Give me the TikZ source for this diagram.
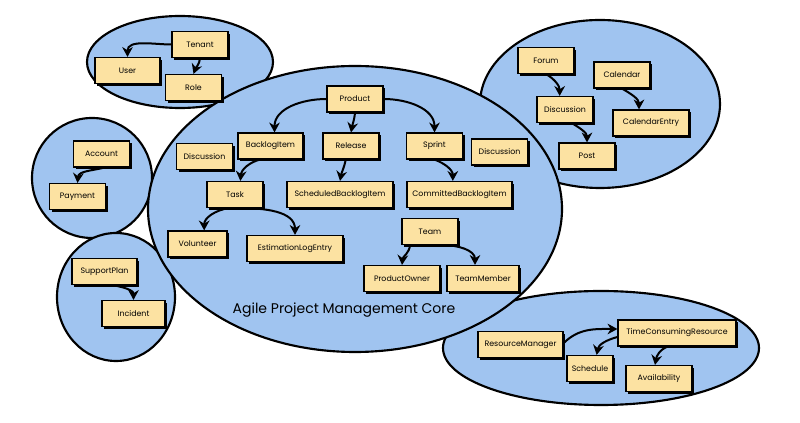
\documentclass[tikz,border=0pt]{standalone}
\usepackage{fontspec}
\setmainfont{Poppins}
\usetikzlibrary{arrows.meta, shadows, positioning}
\definecolor{cZone}{RGB}{160,196,240}
\definecolor{cBox}{RGB}{252,226,162}
\tikzset{
	zone/.style     ={draw=black, line width=1.6pt, fill=cZone},
	ent/.style      ={rectangle, draw=black, line width=0.9pt, fill=cBox, minimum width=42pt, minimum height=19.5pt, inner xsep=4pt, align=center, font=\fontsize{5.9}{7}\selectfont, drop shadow={fill=black, opacity=1, shadow xshift=1.6pt, shadow yshift=-1.6pt}},
	assoc/.style    ={-{Stealth[length=2.6mm, width=2.8mm]}, line width=1.5pt},
	zonelabel/.style={font=\fontsize{10.5}{12}\selectfont},
}

\begin{document}
\begin{tikzpicture}[x=0.75pt, y=-0.75pt]
			\useasboundingbox (0,0) rectangle (800,423);
			\fill[white] (0,0) rectangle (800,423);
			% context zones
			\draw[zone] (180,62) ellipse [x radius=93, y radius=46];
			\draw[zone] (92,178) ellipse [x radius=60, y radius=60];
			\draw[zone] (116,297) ellipse [x radius=59, y radius=64];
			\draw[zone] (600,104) ellipse [x radius=120, y radius=84];
			\draw[zone] (601,348) ellipse [x radius=158, y radius=57];
			\draw[zone] (355,209) ellipse [x radius=207, y radius=143];
			\node[zonelabel] (coretitle) at (344,310) {Agile Project Management Core};
			% identity and access
			\node[ent] (tenant) at (200,44.5) {Tenant};
			\node[ent, minimum width=48.75pt] (user) at (127.5,70.5) {User};
			\node[ent] (role) at (193.5,87.5) {Role};
			\draw[assoc] (tenant.west) to[out=180, in=90] (user.north);
			\draw[assoc] (tenant.south) to[out=-95, in=70] (role.north);
			% billing
			\node[ent] (account) at (101.5,154) {Account};
			\node[ent] (payment) at (77.5,196.5) {Payment};
			\draw[assoc] ([xshift=2pt]account.south) to[out=195, in=85] (payment.north);
			% support
			\node[ent, minimum width=48.75pt] (supportplan) at (104.5,271.5) {SupportPlan};
			\node[ent, minimum width=47.25pt] (incident) at (133.5,313.5) {Incident};
			\draw[assoc] ([xshift=6pt]supportplan.south) to[out=-10, in=90] (incident.north);
			% core
			\node[ent] (product) at (355,99) {Product};
			\node[ent, minimum width=48.75pt] (backlogitem) at (270.5,146) {BacklogItem};
			\node[ent] (release) at (351,146) {Release};
			\node[ent] (sprint) at (434.5,146) {Sprint};
			\node[ent] (discussionl) at (204.5,156.5) {Discussion};
			\node[ent] (discussionr) at (499.5,152) {Discussion};
			\node[ent] (task) at (235,194.5) {Task};
			\node[ent, minimum width=79.5pt] (scheduled) at (340,194.5) {ScheduledBacklogItem};
			\node[ent, minimum width=78.75pt] (committed) at (459.5,194.5) {CommittedBacklogItem};
			\node[ent, minimum width=44.25pt] (volunteer) at (197.5,244) {Volunteer};
			\node[ent, minimum width=72pt] (estimation) at (295,248.5) {EstimationLogEntry};
			\node[ent] (team) at (430,231.5) {Team};
			\node[ent, minimum width=57pt] (productowner) at (402,278.5) {ProductOwner};
			\node[ent, minimum width=54pt] (teammember) at (483,278.5) {TeamMember};
			\draw[assoc] (product.west) to[out=180, in=90] ([xshift=3pt]backlogitem.north);
			\draw[assoc] (product.south) to[out=-95, in=80] (release.north);
			\draw[assoc] (product.east) to[out=0, in=90] (sprint.north);
			\draw[assoc] ([xshift=-8pt]backlogitem.south) to[out=195, in=85] ([xshift=4pt]task.north);
			\draw[assoc] ([xshift=-4pt]release.south) to[out=-100, in=80] (scheduled.north);
			\draw[assoc] (sprint.south) to[out=-20, in=90] ([xshift=-5pt]committed.north);
			\draw[assoc] ([xshift=-5pt]task.south) to[out=190, in=90] ([xshift=5pt]volunteer.north);
			\draw[assoc] ([xshift=4pt]task.south) to[out=0, in=90] (estimation.north);
			\draw[assoc] ([xshift=-15pt]team.south) to[out=-95, in=85] (productowner.north);
			\draw[assoc] ([xshift=10pt]team.south) to[out=0, in=90] ([xshift=-6pt]teammember.north);
			% collaboration
			\node[ent] (forum) at (546,60.5) {Forum};
			\node[ent] (calendar) at (622,75) {Calendar};
			\node[ent] (discussion) at (565,109.5) {Discussion};
			\node[ent, minimum width=57pt] (calendarentry) at (651,123) {CalendarEntry};
			\node[ent] (post) at (587,156) {Post};
			\draw[assoc] (forum.south) to[out=-30, in=90] ([xshift=-4pt]discussion.north);
			\draw[assoc] ([xshift=5pt]discussion.south) to[out=-30, in=90] (post.north);
			\draw[assoc] (calendar.south) to[out=-30, in=90] ([xshift=-9pt]calendarentry.north);
			% resources
			\node[ent, minimum width=63.75pt] (resourcemanager) at (520.5,344.5) {ResourceManager};
			\node[ent, minimum width=88.5pt] (tcresource) at (677,333) {TimeConsumingResource};
			\node[ent, minimum width=34.5pt, inner xsep=2pt] (schedule) at (590,368.5) {Schedule};
			\node[ent, minimum width=49.5pt] (availability) at (659,378.5) {Availability};
			\draw[assoc] ([yshift=1pt]resourcemanager.east) to[out=45, in=180] ([yshift=3pt]tcresource.west);
			\draw[assoc] ([yshift=-3pt]tcresource.west) to[out=195, in=80] ([xshift=5pt]schedule.north);
			\draw[assoc] ([xshift=-7pt]tcresource.south) to[out=200, in=80] ([xshift=-3pt]availability.north);
		\end{tikzpicture}
\end{document}
